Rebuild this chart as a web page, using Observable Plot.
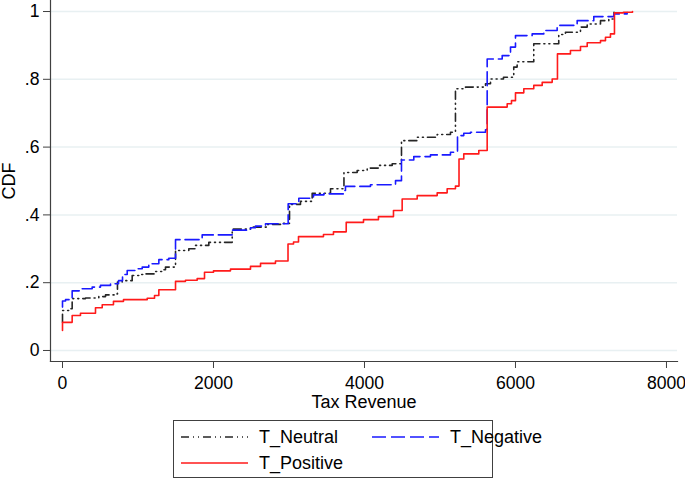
<!DOCTYPE html>
<html>
<head>
<meta charset="utf-8">
<script src="https://cdn.jsdelivr.net/npm/d3@7"></script>
<script src="https://cdn.jsdelivr.net/npm/@observablehq/plot@0.6"></script>
<style>
  html, body { margin: 0; padding: 0; background: #fff; }
  body { width: 685px; height: 480px; overflow: hidden; font-family: 'Liberation Sans', Arial, sans-serif; }
  #legend { position: relative; width: 318px; height: 56px; border: 1px solid #404040; margin: 10px 0 0 173px; font-size: 18px; color: #000; }
  .item { position: absolute; height: 22px; display: flex; align-items: center; }
  .item svg { display: block; margin-right: 11px; }
</style>
</head>
<body>
<div id="chart"></div>
<div id="legend"></div>
<script>
// ---- data (Tax Revenue, CDF) ----
const neutralX = [0, 0, 83, 128, 305, 481, 570, 702, 728, 791, 923, 1011, 1099, 1232, 1321, 1364, 1497, 1673, 1762, 1938, 2248, 2490, 2711, 2927, 3007, 3152, 3307, 3550, 3728, 3903, 4036, 4189, 4367, 4490, 4698, 4963, 5139, 5205, 5338, 5603, 5669, 5841, 5977, 6022, 6242, 6573, 6662, 6861, 6950, 7126, 7236, 7305];
const neutralY = [0.083, 0.118, 0.123, 0.153, 0.155, 0.159, 0.164, 0.167, 0.202, 0.206, 0.221, 0.224, 0.226, 0.233, 0.238, 0.246, 0.295, 0.300, 0.310, 0.319, 0.358, 0.364, 0.372, 0.375, 0.431, 0.440, 0.464, 0.477, 0.525, 0.531, 0.538, 0.546, 0.551, 0.619, 0.629, 0.637, 0.644, 0.772, 0.777, 0.787, 0.801, 0.806, 0.836, 0.852, 0.905, 0.932, 0.939, 0.954, 0.963, 0.973, 0.978, 0.998];

const negativeX = [0, 0, 40, 128, 261, 393, 503, 636, 742, 795, 857, 967, 1056, 1143, 1276, 1408, 1497, 1850, 2248, 2490, 2556, 2689, 2989, 3130, 3324, 3461, 3726, 3748, 4079, 4411, 4490, 4653, 4874, 5139, 5232, 5315, 5404, 5603, 5625, 5824, 5934, 6000, 6221, 6375, 6552, 6817, 7037, 7302, 7479];
const negativeY = [0.128, 0.146, 0.150, 0.176, 0.182, 0.187, 0.192, 0.197, 0.206, 0.224, 0.236, 0.241, 0.246, 0.256, 0.268, 0.272, 0.327, 0.341, 0.355, 0.362, 0.367, 0.374, 0.433, 0.449, 0.459, 0.462, 0.472, 0.484, 0.489, 0.501, 0.562, 0.572, 0.577, 0.585, 0.634, 0.641, 0.644, 0.651, 0.860, 0.870, 0.895, 0.929, 0.934, 0.944, 0.959, 0.973, 0.985, 0.993, 0.997];

const positiveX = [0, 0, 128, 238, 437, 526, 675, 808, 1122, 1219, 1276, 1497, 1629, 1784, 1881, 2000, 2225, 2490, 2623, 2821, 2987, 3060, 3126, 3457, 3589, 3758, 3987, 4185, 4384, 4499, 4698, 4963, 5095, 5205, 5252, 5315, 5514, 5625, 5890, 5947, 6000, 6110, 6242, 6354, 6486, 6556, 6728, 6861, 6950, 7126, 7192, 7258, 7311, 7430, 7550];
const positiveY = [0.059, 0.083, 0.103, 0.110, 0.126, 0.135, 0.145, 0.150, 0.154, 0.162, 0.179, 0.204, 0.207, 0.212, 0.231, 0.235, 0.240, 0.248, 0.257, 0.264, 0.314, 0.320, 0.336, 0.342, 0.350, 0.378, 0.386, 0.395, 0.413, 0.447, 0.457, 0.465, 0.477, 0.485, 0.565, 0.580, 0.590, 0.718, 0.728, 0.737, 0.760, 0.772, 0.782, 0.791, 0.801, 0.875, 0.885, 0.897, 0.908, 0.914, 0.924, 0.934, 0.996, 0.998, 1.000];

const seriesNames = ["T_Neutral", "T_Negative", "T_Positive"];
const yTicks = [0, 0.2, 0.4, 0.6, 0.8, 1];
const yTickLabels = ["0", ".2", ".4", ".6", ".8", "1"];
const xTicks = [0, 2000, 4000, 6000, 8000];
const xTickLabels = ["0", "2000", "4000", "6000", "8000"];

// ---- styles ----
const styles = [
  {stroke: "#262626", dash: "8,4,1,4,1,4"},
  {stroke: "#1a1aff", dash: "14,5"},
  {stroke: "#ff1a1a", dash: null}
];

const toRows = (xs, ys) => xs.map((x, i) => ({x, y: ys[i]}));
const series = [toRows(neutralX, neutralY), toRows(negativeX, negativeY), toRows(positiveX, positiveY)];

const chart = Plot.plot({
  width: 685,
  height: 410,
  marginLeft: 50,
  marginRight: 8,
  marginTop: 0,
  marginBottom: 49,
  x: {domain: [-159, 8146]},
  y: {domain: [-0.0325, 1.0325]},
  style: {fontFamily: "'Liberation Sans', Arial, sans-serif", fontSize: "17.6px", color: "#000", background: "#fff", overflow: "visible"},
  marks: [
    Plot.ruleY(yTicks, {stroke: "#e8f0f2", strokeWidth: 1.5}),
    ...series.map((rows, i) => Plot.line(rows, {
      x: "x", y: "y", curve: "step-after",
      stroke: styles[i].stroke, strokeWidth: 1.6,
      strokeDasharray: styles[i].dash
    })),
    Plot.frame({anchor: "left", stroke: "#404040", strokeWidth: 1.2}),
    Plot.frame({anchor: "bottom", stroke: "#404040", strokeWidth: 1.2}),
    Plot.axisY({ticks: yTicks, tickFormat: d => yTickLabels[yTicks.indexOf(d)], tickSize: 7, tickPadding: 4, label: null, stroke: "#404040"}),
    Plot.axisX({ticks: xTicks, tickFormat: d => xTickLabels[xTicks.indexOf(d)], tickSize: 7, tickPadding: 8, label: null, stroke: "#404040"}),
    Plot.text(["CDF"], {frameAnchor: "left", textAnchor: "middle", rotate: -90, dx: -41, text: d => d, fill: "#000", fontSize: 18}),
    Plot.text(["Tax Revenue"], {frameAnchor: "bottom", textAnchor: "middle", dy: 46, text: d => d, fill: "#000", fontSize: 18})
  ]
});
document.getElementById("chart").appendChild(chart);

// ---- legend ----
const legend = document.getElementById("legend");
const positions = [{left: 7, top: 5}, {left: 198, top: 5}, {left: 7, top: 31}];
seriesNames.forEach((name, i) => {
  const div = document.createElement("div");
  div.className = "item";
  div.style.left = positions[i].left + "px";
  div.style.top = positions[i].top + "px";
  const dash = styles[i].dash ? ` stroke-dasharray="${styles[i].dash}"` : "";
  div.innerHTML = `<svg width="67" height="10"><line x1="0" y1="5" x2="67" y2="5" stroke="${styles[i].stroke}" stroke-width="1.6"${dash}/></svg><span>${name}</span>`;
  legend.appendChild(div);
});
</script>
</body>
</html>
